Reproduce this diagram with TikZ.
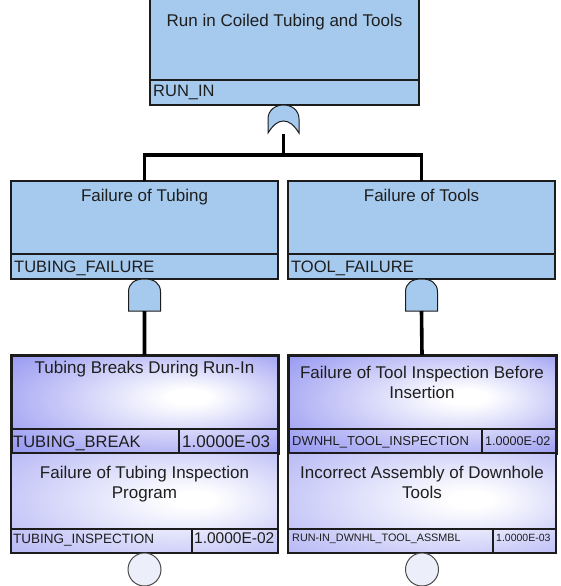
\documentclass[tikz,border=0pt]{standalone}
\usepackage{fontspec}
\setmainfont{Liberation Sans}
\definecolor{midblue}{RGB}{166,202,238}
\definecolor{evblue}{RGB}{112,114,236}
\definecolor{evbluel}{RGB}{160,162,242}
\definecolor{gatefill}{RGB}{236,238,250}
\definecolor{edge}{RGB}{28,28,28}
\definecolor{txt}{RGB}{30,30,30}
\pgfdeclareradialshading{evshadeA}{\pgfpoint{9bp}{4bp}}{color(0bp)=(white); color(4bp)=(white); color(28bp)=(evblue!55!white); color(50bp)=(evblue)}
\pgfdeclareradialshading{evshadeB}{\pgfpoint{10bp}{2bp}}{color(0bp)=(white); color(4bp)=(white); color(28bp)=(evbluel!55!white); color(50bp)=(evbluel)}
\tikzset{
  gbox/.style={rectangle, draw=edge, line width=1.3bp, fill=midblue, inner sep=0pt, outer sep=0pt, anchor=north west},
  gstrip/.style={rectangle, draw=edge, line width=1.1bp, fill=midblue, inner sep=0pt, outer sep=0pt, anchor=north west},
  ebox/.style={rectangle, draw=edge, inner sep=0pt, outer sep=0pt, anchor=north west},
  estrip/.style={rectangle, draw=edge, inner sep=0pt, outer sep=0pt, anchor=north west},
  ttl/.style={inner sep=0pt, text=txt, anchor=base, font=\fontsize{17bp}{20bp}\selectfont},
  lab/.style={inner sep=0pt, text=txt, anchor=base west},
  gatepath/.style={draw=edge, line width=1bp, fill=midblue},
  conn/.style={draw=black, line width=3.6bp, line join=miter},
  cgate/.style={circle, draw=edge!80, line width=1bp, fill=gatefill, minimum size=33bp, inner sep=0pt}
}
\begin{document}
\begin{tikzpicture}[x=1bp,y=-1bp]
\useasboundingbox (0,0) rectangle (561,586);

% ---------- top event ----------
\node[gbox, minimum width=269bp, minimum height=108bp] (top) at (150,-3) {};
\node[gstrip, minimum width=269bp, minimum height=25bp] (topid) at (150,80) {};
\node[ttl] (toptitle) at (284.5,27) {Run in Coiled Tubing and Tools};
\node[lab, font=\fontsize{16.5bp}{20bp}\selectfont] (toplab) at (153,97) {RUN\_IN};

% OR gate
\begin{scope}[shift={(283.5,105)}]
\path[gatepath] (-15.5,28) -- (-15.5,14) .. controls (-15.5,5) and (-8,0) .. (0,0)
  .. controls (8,0) and (15.5,5) .. (15.5,14) -- (15.5,28)
  .. controls (10.5,20) and (5.5,16) .. (0,16) .. controls (-5.5,16) and (-10.5,20) .. (-15.5,28) -- cycle;
\coordinate (orOut) at (0,29);
\end{scope}

% ---------- intermediate events ----------
\node[gbox, minimum width=267bp, minimum height=98bp] (mL) at (11,181) {};
\node[gstrip, minimum width=267bp, minimum height=25bp] (mLid) at (11,254) {};
\node[ttl] (mLtitle) at (144.5,201) {Failure of Tubing};
\node[lab, font=\fontsize{16.5bp}{20bp}\selectfont] (mLlab) at (14,272) {TUBING\_FAILURE};

\node[gbox, minimum width=267bp, minimum height=98bp] (mR) at (288,181) {};
\node[gstrip, minimum width=267bp, minimum height=25bp] (mRid) at (288,254) {};
\node[ttl] (mRtitle) at (421.5,201) {Failure of Tools};
\node[lab, font=\fontsize{16.5bp}{20bp}\selectfont] (mRlab) at (291,272) {TOOL\_FAILURE};

% connectors from OR gate
\draw[conn] (orOut) -- ++(0,21);
\draw[conn] (mL.north) -- ++(0,-26) -| (mR.north);

% AND gates
\begin{scope}[shift={(144.5,279)}]
\path[gatepath] (-16,32) -- (-16,13) .. controls (-16,4) and (-9.5,0) .. (0,0)
  .. controls (9.5,0) and (16,4) .. (16,13) -- (16,32) -- cycle;
\coordinate (andLout) at (0,32);
\end{scope}
\begin{scope}[shift={(421.5,279)}]
\path[gatepath] (-16,32) -- (-16,13) .. controls (-16,4) and (-9.5,0) .. (0,0)
  .. controls (9.5,0) and (16,4) .. (16,13) -- (16,32) -- cycle;
\coordinate (andRout) at (0,32);
\end{scope}

% ---------- basic events, left ----------
\node[ebox, shading=evshadeA, minimum width=267bp, minimum height=98bp, line width=3bp] (bL1) at (11,355) {};
\node[estrip, minimum width=168bp, minimum height=24bp, line width=2.2bp] (bL1id) at (11,429) {};
\node[estrip, minimum width=99bp, minimum height=24bp, line width=2.2bp] (bL1v) at (179,429) {};
\node[ttl] (bL1title) at (144.5,373) {Tubing Breaks During Run-In};
\node[lab, font=\fontsize{16.5bp}{20bp}\selectfont] (bL1lab) at (13,447) {TUBING\_BREAK};
\node[lab, font=\fontsize{17bp}{20bp}\selectfont] (bL1val) at (182,447) {1.0000E-03};

\node[ebox, shading=evshadeB, minimum width=267bp, minimum height=100bp, line width=1.5bp] (bL2) at (11,453) {};
\node[estrip, minimum width=181bp, minimum height=24bp, line width=1.2bp] (bL2id) at (11,529) {};
\node[estrip, minimum width=86bp, minimum height=24bp, line width=1.2bp] (bL2v) at (192,529) {};
\node[ttl] (bL2t1) at (144.5,478) {Failure of Tubing Inspection};
\node[ttl] (bL2t2) at (144.5,498) {Program};
\node[lab, font=\fontsize{13.5bp}{16bp}\selectfont] (bL2lab) at (13,543) {TUBING\_INSPECTION};
\node[lab, font=\fontsize{15.5bp}{18bp}\selectfont] (bL2val) at (194,543) {1.0000E-02};

% ---------- basic events, right ----------
\node[ebox, shading=evshadeA, minimum width=268bp, minimum height=98bp, line width=3bp] (bR1) at (288,355) {};
\node[estrip, minimum width=194bp, minimum height=24bp, line width=2.2bp] (bR1id) at (288,429) {};
\node[estrip, minimum width=74bp, minimum height=24bp, line width=2.2bp] (bR1v) at (482,429) {};
\node[ttl] (bR1t1) at (422,378) {Failure of Tool Inspection Before};
\node[ttl] (bR1t2) at (422,398) {Insertion};
\node[lab, font=\fontsize{13bp}{16bp}\selectfont] (bR1lab) at (292,445) {DWNHL\_TOOL\_INSPECTION};
\node[lab, font=\fontsize{12.6bp}{16bp}\selectfont] (bR1val) at (485,445) {1.0000E-02};

\node[ebox, shading=evshadeB, minimum width=268bp, minimum height=100bp, line width=1.5bp] (bR2) at (288,453) {};
\node[estrip, minimum width=205bp, minimum height=24bp, line width=1.2bp] (bR2id) at (288,529) {};
\node[estrip, minimum width=63bp, minimum height=24bp, line width=1.2bp] (bR2v) at (493,529) {};
\node[ttl] (bR2t1) at (422,478) {Incorrect Assembly of Downhole};
\node[ttl] (bR2t2) at (422,498) {Tools};
\node[lab, font=\fontsize{10.8bp}{13bp}\selectfont] (bR2lab) at (292,541) {RUN-IN\_DWNHL\_TOOL\_ASSMBL};
\node[lab, font=\fontsize{10.5bp}{13bp}\selectfont] (bR2val) at (496,541) {1.0000E-03};

% connectors from AND gates
\draw[conn] (andLout) -- (bL1.north);
\draw[conn] (andRout) -- (bR1.north);

% circles under the basic events
\node[cgate] (cL) at (144.5,569.5) {};
\node[cgate] (cR) at (422,569.5) {};
\end{tikzpicture}
\end{document}
